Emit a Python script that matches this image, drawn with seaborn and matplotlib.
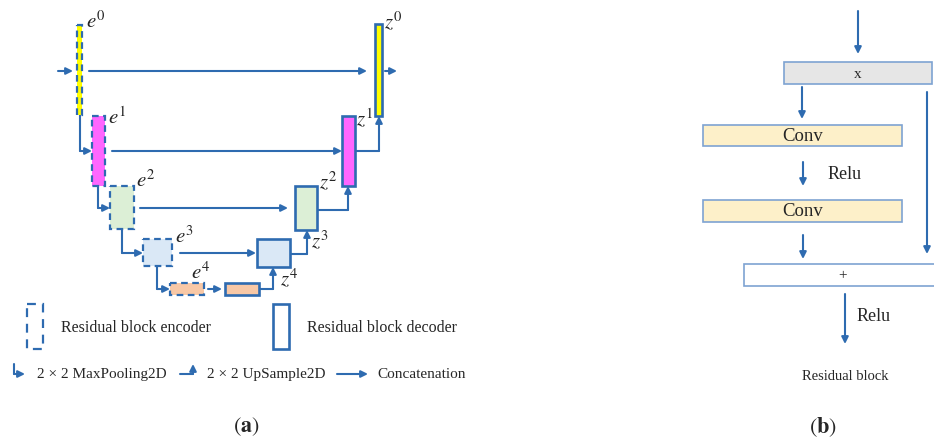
import matplotlib
matplotlib.use("Agg")
import matplotlib.pyplot as plt
import seaborn as sns
import pandas as pd
from matplotlib.patches import Rectangle

sns.set_theme(style="white")
plt.rcParams["font.family"] = ["Liberation Serif", "DejaVu Serif"]
plt.rcParams["mathtext.fontset"] = "stix"

BLUE = "#2e6bb0"
EDGE_B = "#7ea3d2"

# ── Panel (a): U-Net blocks (pixel box: x0, y0, x1, y1) ──────────────────────
enc_names = ["e^0", "e^1", "e^2", "e^3", "e^4"]
enc_boxes = [(77, 26, 82, 116), (92, 117, 105, 187), (110, 187, 134, 230),
             (143, 240, 172, 267), (170, 284, 204, 296)]
enc_label_xy = [(86, 22), (108, 118), (136, 181), (175, 237), (191, 273)]

dec_names = ["z^0", "z^1", "z^2", "z^3", "z^4"]
dec_boxes = [(375, 25, 382, 117), (342, 117, 355, 187), (295, 187, 317, 231),
             (257, 240, 290, 268), (225, 284, 259, 296)]
dec_label_xy = [(384, 22), (356, 120), (319, 182), (311, 241), (280, 280)]

level_colors = ["#ffff00", "#ff66ff", "#dcefd6", "#dae8f6", "#f8c8a6"]

# connector paths, each ends with an arrow head
connectors = [
    [(58, 72), (73, 72)],
    [(89, 72), (367, 72)],
    [(385, 72), (397, 72)],
    [(80, 116), (80, 152), (92, 152)],
    [(112, 152), (342, 152)],
    [(355, 152), (379, 152), (379, 117)],
    [(98, 187), (98, 209), (110, 209)],
    [(140, 209), (288, 209)],
    [(317, 211), (348, 211), (348, 187)],
    [(122, 230), (122, 254), (143, 254)],
    [(180, 254), (256, 254)],
    [(290, 255), (307, 255), (307, 231)],
    [(157, 267), (157, 290), (170, 290)],
    [(208, 290), (222, 290)],
    [(259, 290), (273, 290), (273, 268)],
]

# ── Panel (b): residual block ────────────────────────────────────────────────
res_labels = ["x", "Conv", "Conv", "+"]
res_boxes = [(784, 63, 932, 85), (703, 126, 902, 147),
             (703, 201, 902, 223), (744, 265, 936, 287)]
res_fill = ["#e6e6e6", "#fdf0c9", "#fdf0c9", "#ffffff"]
res_font = [11, 13.5, 13.5, 11]
res_arrows = [
    [(858, 12), (858, 55)],
    [(802, 88), (802, 120)],
    [(803, 163), (803, 187)],
    [(803, 236), (803, 260)],
    [(927, 93), (927, 255)],
    [(845, 295), (845, 345)],
]

fig = plt.figure(figsize=(9.34, 4.39), dpi=100)
ax = fig.add_axes([0, 0, 1, 1])
ax.set_xlim(0, 934)
ax.set_ylim(439, 0)
ax.axis("off")


def draw_path(pts, lw=1.5):
    df = pd.DataFrame({"x": [p[0] for p in pts], "y": [p[1] for p in pts]})
    sns.lineplot(data=df.iloc[:-1], x="x", y="y", sort=False, estimator=None,
                 color=BLUE, lw=lw, ax=ax)
    ax.annotate("", xy=pts[-1], xytext=pts[-2],
                arrowprops=dict(arrowstyle="-|>", color=BLUE, lw=lw,
                                mutation_scale=10, shrinkA=0, shrinkB=0))


def draw_box(b, fill, ls="-", edge=BLUE, lw=1.6):
    x0, y0, x1, y1 = b
    ax.add_patch(Rectangle((x0, y0), x1 - x0, y1 - y0, facecolor=fill,
                           edgecolor=edge, lw=lw, ls=ls, zorder=3))


for pts in connectors:
    draw_path(pts)

for b, c, n, (lx, ly) in zip(enc_boxes, level_colors, enc_names, enc_label_xy):
    draw_box(b, c, ls=(0, (3, 2)))
    ax.text(lx, ly, f"${n}$", fontsize=15, ha="left", va="center")

for b, c, n, (lx, ly) in zip(dec_boxes, level_colors, dec_names, dec_label_xy):
    draw_box(b, c, lw=1.9)
    ax.text(lx, ly, f"${n}$", fontsize=15, ha="left", va="center")

# legend
draw_box((27, 305, 43, 350), "white", ls=(0, (4, 3)))
ax.text(61, 328, "Residual block encoder", fontsize=11.5, va="center")
draw_box((273, 305, 289, 350), "white", lw=1.9)
ax.text(307, 328, "Residual block decoder", fontsize=11.5, va="center")

draw_path([(14, 365), (14, 375), (25, 375)])
ax.text(37, 375, "2 \u00d7 2 MaxPooling2D", fontsize=11, va="center")
draw_path([(180, 375), (193, 375), (193, 365)])
ax.text(207, 375, "2 \u00d7 2 UpSample2D", fontsize=11, va="center")
draw_path([(337, 375), (368, 375)])
ax.text(377, 375, "Concatenation", fontsize=11, va="center")

for pts in res_arrows:
    draw_path(pts)

for b, f, lab, fs in zip(res_boxes, res_fill, res_labels, res_font):
    draw_box(b, f, edge=EDGE_B, lw=1.2)
    cx = 843 if lab == "+" else (b[0] + b[2]) / 2
    ax.text(cx, (b[1] + b[3]) / 2, lab, fontsize=fs, ha="center",
            va="center", zorder=4)

ax.text(828, 175, "Relu", fontsize=13, va="center")
ax.text(857, 317, "Relu", fontsize=13, va="center")
ax.text(845, 377, "Residual block", fontsize=10.5, ha="center", va="center")

ax.text(246, 427, r"$(\mathbf{a})$", fontsize=16, ha="center", va="center")
ax.text(823, 427, r"$(\mathbf{b})$", fontsize=16, ha="center", va="center")

fig.savefig("out.png", dpi=100)
